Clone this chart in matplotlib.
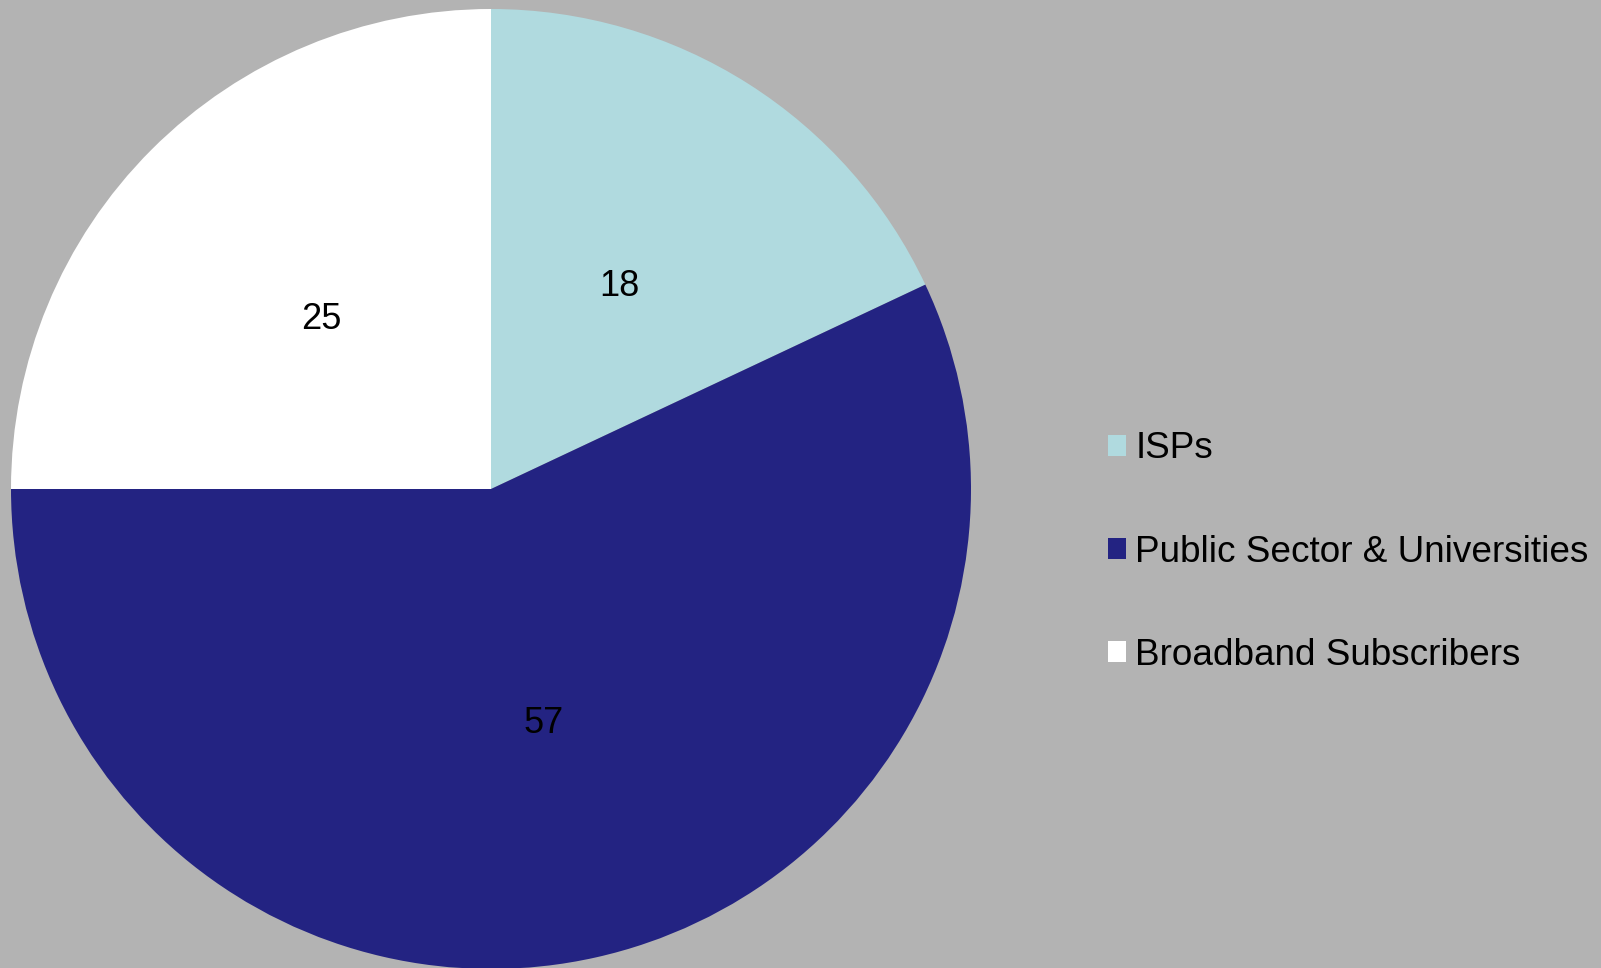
import matplotlib
matplotlib.use("Agg")
import matplotlib.pyplot as plt
from matplotlib.patches import Patch

# data
categories = ["ISPs", "Public Sector & Universities", "Broadband Subscribers"]
values = [18, 57, 25]
colors = ["#B0DADF", "#232382", "#FFFFFF"]
bg = "#B3B3B3"

W, H = 1601, 968
fig = plt.figure(figsize=(W / 100, H / 100), dpi=100, facecolor=bg)
plt.rcParams["font.family"] = ["Liberation Sans", "DejaVu Sans"]

cx, cy, r = 491, 479, 480   # pie centre / radius in pixels (y from bottom)
ax = fig.add_axes([(cx - r) / W, (cy - r) / H, 2 * r / W, 2 * r / H])
ax.set_facecolor(bg)

wedges, texts = ax.pie(values, colors=colors, startangle=90, counterclock=False,
                       labels=[str(v) for v in values], labeldistance=0.5,
                       wedgeprops=dict(linewidth=0),
                       textprops=dict(fontsize=26, color="black",
                                      ha="center", va="center"))
ax.set_xlim(-1, 1)
ax.set_ylim(-1, 1)
ax.set_aspect("equal")
ax.axis("off")

handles = [Patch(facecolor=c, edgecolor="none") for c in colors]
fig.legend(handles, categories, loc="center left",
           bbox_to_anchor=(1093 / W, (H - 552) / H),
           frameon=False, fontsize=26.6, handlelength=0.5, handleheight=0.5,
           handletextpad=0.25, labelspacing=1.85, borderaxespad=0)

fig.savefig("out.png", dpi=100, facecolor=bg)
